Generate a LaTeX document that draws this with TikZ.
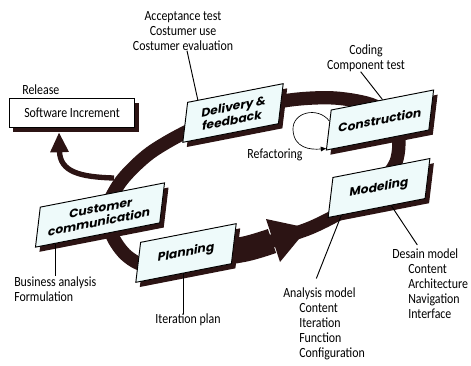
\documentclass[tikz,border=0pt]{standalone}
\usepackage{fontspec}
\usetikzlibrary{arrows.meta,calc,shadows}
\newfontfamily\notefont[FakeStretch=0.85]{Carlito}
\newfontfamily\stagefont{Poppins}
\definecolor{ringc}{RGB}{44,20,20}
\definecolor{boxc}{RGB}{238,250,250}
\tikzset{
  stage/.style={draw, line width=0.7pt, fill=boxc, xslant=0.12, yslant=0.2,
    minimum height=30pt, inner sep=2pt, align=center,
    font=\stagefont\bfseries\fontsize{9}{10.5}\selectfont,
    drop shadow={shadow xshift=3pt, shadow yshift=-3.5pt, fill=ringc, opacity=1}},
  note/.style={font=\notefont\fontsize{10.5}{11.2}\selectfont, inner sep=0pt},
  leader/.style={line width=0.7pt},
  ring/.style={draw=ringc, line width=10pt}
}
\begin{document}
\begin{tikzpicture}[x=0.75pt,y=-0.75pt]
\useasboundingbox (0,0) rectangle (471,365);
% the cycle
\draw[ring] plot[smooth cycle] coordinates {(150,266) (200,258) (245,250) (275,240)
  (310,228) (340,213) (372,192) (396,162) (397,128) (375,106) (335,98) (290,100)
  (240,111) (190,130) (150,153) (122,180) (108,207) (112,235) (127,256)};
\draw[ring, line width=19pt] plot[smooth] coordinates {(150,262) (200,256) (245,249) (272,241)};
\fill[ringc] (266,219) -- (308,228) -- (280,262) -- cycle;
\coordinate (brA) at (114,178);

\node[stage, minimum width=70pt] (deliv) at (233,113) {Delivery \&\\feedback};
\node[stage, minimum width=75pt] (constr) at (380,120) {Construction};
\node[stage, minimum width=71pt] (model) at (379,188) {Modeling};
\node[stage, minimum width=91pt] (custc) at (100,215) {Customer\\communication};
\node[stage, minimum width=70pt] (plan) at (186,253) {Planning};

\node[draw, line width=0.8pt, fill=white, minimum width=94pt, minimum height=22pt,
  font=\notefont\fontsize{10.5}{11.2}\selectfont,
  drop shadow={shadow xshift=3pt, shadow yshift=-3.5pt, fill=ringc, opacity=1}]
  (swinc) at (72,113) {Software Increment};
\node[note, anchor=west] (release) at (22,90) {Release};

\node[note, align=center] (accept) at (183,31) {Acceptance test\\Costumer use\\Costumer evaluation};
\node[note, align=center] (coding) at (366,58) {Coding\\Component test};
\node[note] (refac) at (275,155) {Refactoring};
\node[note, align=left, anchor=west] (busan) at (14,289) {Business analysis\\Formulation};
\node[note] (iterp) at (188,320) {Iteration plan};
\node[note, align=left, anchor=west] (analysis) at (283,324) {Analysis model\\
  \hspace*{12pt}Content\\\hspace*{12pt}Iteration\\\hspace*{12pt}Function\\\hspace*{12pt}Configuration};
\node[note, align=left, anchor=west] (desain) at (392,284) {Desain model\\
  \hspace*{12pt}Content\\\hspace*{12pt}Architecture\\\hspace*{12pt}Navigation\\\hspace*{12pt}Interface};

% leaders
\draw[leader] ($(deliv.north west)!0.11!(deliv.north east)$) -- ([xshift=3pt]accept.south);
\draw[leader] (constr.north) -- ([xshift=-4pt]coding.south);
\coordinate (cL) at ($(custc.south west)!0.16!(custc.south east)$);
\draw[leader] (cL) -- (cL |- busan.north);
\draw[leader] (plan.south) -- (plan.south |- iterp.north);
\draw[leader] ($(model.south west)!0.14!(model.south east)$) -- ([xshift=25pt,yshift=7pt]analysis.north west);
\draw[leader] ($(model.south west)!0.65!(model.south east)$) -- ([xshift=19pt,yshift=3pt]desain.north west);

% release branch and refactoring loop
\draw[draw=ringc, line width=4pt, -{Triangle[length=15pt,width=13pt]}]
  (brA) .. controls (80,177) and (60,172) .. ($(swinc.south)+(-13,4)$);
\coordinate (rfA) at ($(constr.north west)!0.28!(constr.south west)$);
\coordinate (rfB) at ($(constr.north west)!0.95!(constr.south west)$);
\draw[line width=0.5pt, -{Triangle[length=4pt,width=3.5pt]}]
  (rfA) .. controls (318,106) and (292,112) .. (293,130) .. controls (294,148) and (310,150) .. (rfB);
\end{tikzpicture}
\end{document}
